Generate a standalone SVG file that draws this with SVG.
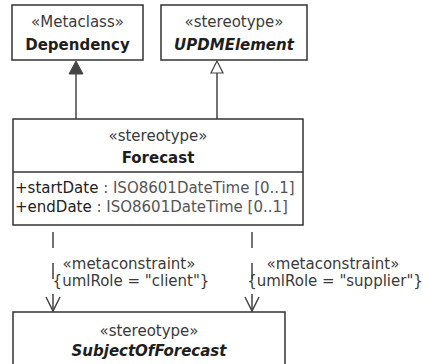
<svg xmlns="http://www.w3.org/2000/svg" width="423" height="364" viewBox="0 0 423 364">
<style>
.box{fill:#fff;stroke:#333;stroke-width:1.5}
text{font-family:"DejaVu Sans","Liberation Sans",sans-serif;font-size:15px}
.st{fill:#3a3a3a;text-anchor:middle}
.nm{fill:#1e1e1e;font-weight:bold;text-anchor:middle}
.it{font-style:italic}
.at{fill:#555}
.ak{fill:#222}
.lbl{fill:#3a3a3a;text-anchor:middle}
.ln{stroke:#444;stroke-width:1.5;fill:none}
.dash{stroke:#444;stroke-width:1.5;fill:none;stroke-dasharray:16 15}
</style>
<g id="connectors">
<line class="ln" x1="76" y1="73" x2="76" y2="119"/>
<polygon points="76,61 69,74 83,74" fill="#444" stroke="#444" stroke-width="1"/>
<line class="ln" x1="217" y1="73" x2="217" y2="119"/>
<polygon points="217,61 211,73 223,73" fill="#fff" stroke="#444" stroke-width="1.2"/>
<line class="dash" x1="53" y1="232" x2="53" y2="311"/>
<polyline class="ln" points="46,297 53,311 60,297"/>
<line class="dash" x1="252" y1="232" x2="252" y2="311"/>
<polyline class="ln" points="245,297 252,311 259,297"/>
<text class="lbl" x="129" y="269">«metaconstraint»</text>
<text class="lbl" x="131" y="286">{umlRole = "client"}</text>
<text class="lbl" x="333" y="269">«metaconstraint»</text>
<text class="lbl" x="335" y="286">{umlRole = "supplier"}</text>
</g>
<g id="dependency">
<rect class="box" x="12" y="5" width="131" height="55"/>
<text class="st" x="77.5" y="27">«Metaclass»</text>
<text class="nm" x="77.5" y="50">Dependency</text>
</g>
<g id="updmelement">
<rect class="box" x="161" y="5" width="146" height="55"/>
<text class="st" x="234" y="27">«stereotype»</text>
<text class="nm it" x="234" y="50">UPDMElement</text>
</g>
<g id="forecast">
<rect class="box" x="13" y="119" width="290" height="106"/>
<line class="ln" x1="13" y1="172" x2="303" y2="172" style="stroke:#333"/>
<text class="st" x="158" y="141">«stereotype»</text>
<text class="nm" x="158" y="163">Forecast</text>
<text x="15" y="193"><tspan class="ak">+startDate</tspan><tspan class="at"> : ISO8601DateTime [0..1]</tspan></text>
<text x="15" y="212"><tspan class="ak">+endDate</tspan><tspan class="at"> : ISO8601DateTime [0..1]</tspan></text>
</g>
<g id="subjectofforecast">
<rect class="box" x="13" y="312" width="272" height="70"/>
<text class="st" x="149" y="336">«stereotype»</text>
<text class="nm it" x="149" y="356">SubjectOfForecast</text>
</g>
</svg>
